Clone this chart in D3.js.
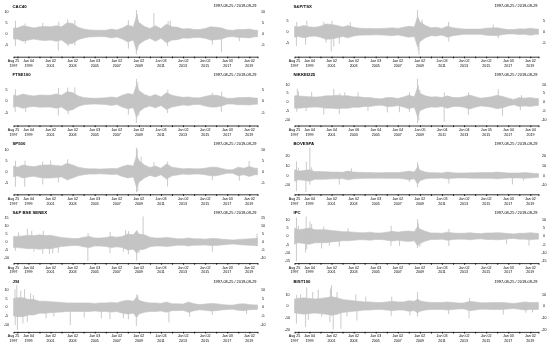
<!DOCTYPE html>
<html><head><meta charset="utf-8">
<script src="https://cdn.jsdelivr.net/npm/d3@7"></script>
<style>body{margin:0;background:#fff}svg{display:block;will-change:transform;transform:translateZ(0)}</style>
</head><body><svg id="c" width="550" height="348"></svg>
<script>
// ---------------- data ----------------
const names = ["CAC40","S&P/TSX","FTSE100","NIKKEI225","SP500","BOVESPA","S&P BSE SENEX","IPC","JSI","BIST100"];
const dateRange = "1997-08-25 / 2019-09-29";
const startDate = "1997-08-25", endDate = "2019-09-29";

// time grid for the typical (dense) daily-return band, in decimal years
const bandYears = [1997.65, 1998, 1998.5, 1999, 1999.5,
  2000, 2000.5, 2001, 2001.5, 2002, 2002.5, 2003, 2003.5,
  2004, 2004.5, 2005, 2005.5, 2006, 2006.5, 2007, 2007.5,
  2008, 2008.5, 2008.8, 2009, 2009.5, 2010, 2010.5,
  2011, 2011.5, 2012, 2012.5, 2013, 2013.5, 2014, 2014.5,
  2015, 2015.5, 2016, 2016.5, 2017, 2017.5, 2018, 2018.5,
  2019, 2019.5, 2019.74];

// half-width of the dense band (%) per grid date
const bandCAC40 = [2.5,2.5,3.5,3.0,2.5, 3.0,3.2,3.0,3.5, 3.0,4.8,4.5,2.8, 2.0,1.6,1.5,1.4, 1.5,2.0,1.6,2.5, 3.8,3.0,8.0, 5.0,3.2,2.2,3.5, 2.2,4.2,3.0,2.8, 2.0,2.2,1.8,1.8, 2.2,3.0,2.8,2.5, 1.6,1.4,1.8,1.8, 2.0,1.5,1.5];
const bandTSX   = [2.5,2.2,2.8,2.2,2.0, 2.5,3.5,3.3,2.8, 2.2,2.8,2.0,1.6, 1.5,1.5,1.4,1.5, 1.6,1.8,1.5,2.0, 2.5,2.2,7.0, 4.5,2.8,1.8,2.0, 1.5,2.5,1.8,1.5, 1.2,1.2,1.2,1.2, 1.6,1.7,1.8,1.3, 1.0,1.0,1.3,1.2, 1.6,1.2,1.2];
const bandFTSE  = [2.5,2.2,3.0,2.5,2.2, 2.6,2.5,2.5,3.0, 2.5,4.0,3.6,2.2, 1.5,1.3,1.2,1.3, 1.4,1.8,1.4,2.5, 3.2,2.8,7.0, 4.5,2.8,2.0,2.8, 1.8,3.5,2.5,2.0, 1.6,1.8,1.4,1.4, 2.0,2.5,2.5,2.0, 1.2,1.2,1.5,1.5, 1.6,1.3,1.3];
const bandNIKKEI= [3.5,3.5,3.2,3.0,2.8, 3.0,3.5,3.5,3.8, 3.5,3.5,3.0,3.0, 2.5,2.5,2.0,1.8, 2.5,2.5,2.0,2.8, 3.8,3.0,8.5, 5.0,3.5,2.8,3.0, 2.5,3.5,2.5,2.5, 3.0,4.0,3.0,2.2, 2.5,3.0,3.8,3.2, 2.2,1.5,2.5,2.2, 2.5,2.0,2.0];
const bandSP500 = [2.5,2.0,3.0,2.5,2.2, 2.8,3.0,3.0,2.8, 2.5,3.8,3.0,2.0, 1.5,1.2,1.2,1.1, 1.2,1.4,1.3,2.3, 3.0,2.5,7.5, 5.0,3.0,1.8,2.5, 1.5,3.5,2.0,1.6, 1.2,1.4,1.2,1.2, 1.5,2.0,2.0,1.4, 0.8,0.8,2.0,1.5, 2.3,1.5,1.5];
const bandBOVESPA=[6.0,4.5,5.0,6.0,4.0, 4.0,3.8,3.5,3.5, 3.2,4.5,3.5,3.2, 3.0,3.0,2.8,2.8, 3.0,3.0,3.0,3.5, 4.5,3.5,9.0, 5.5,3.5,2.8,2.8, 2.5,3.5,2.8,2.5, 2.5,2.8,2.8,3.0, 3.0,3.0,3.5,3.0, 2.5,2.5,2.5,3.0, 2.5,2.0,2.0];
const bandSENSEX= [3.5,3.5,3.8,4.2,4.0, 4.5,4.0,4.2,3.5, 2.8,2.5,2.2,2.2, 3.0,3.5,2.5,2.5, 2.8,3.5,3.0,3.5, 5.0,4.5,7.0, 5.0,4.5,3.0,2.5, 2.5,2.8,2.5,2.0, 2.0,2.5,2.0,2.0, 1.8,2.2,2.2,1.8, 1.5,1.2,1.6,1.8, 2.0,2.2,2.5];
const bandIPC   = [5.0,4.0,4.5,5.0,4.0, 4.0,4.0,3.5,3.2, 2.8,2.8,2.5,2.2, 2.2,2.5,2.0,2.0, 2.5,3.0,2.5,3.0, 3.2,2.8,6.0, 4.5,3.0,2.0,2.0, 1.8,2.5,2.0,1.8, 1.8,2.2,1.8,1.6, 2.0,2.0,2.2,2.0, 1.6,1.4,1.8,1.8, 2.2,1.8,1.8];
const bandJSI   = [5.0,5.5,5.5,4.5,4.5, 3.5,3.5,3.2,3.0, 2.8,2.5,2.5,2.5, 2.5,2.5,2.2,2.5, 2.5,2.8,2.5,3.5, 4.0,3.5,6.0, 4.0,3.0,2.5,2.5, 2.2,3.0,2.0,2.0, 1.8,3.0,2.0,1.5, 1.8,2.2,2.0,1.6, 1.3,1.2,1.8,2.0, 1.5,1.3,1.3];
const bandBIST  = [6.0,6.5,7.0,6.5,6.0, 6.5,7.0,8.0,7.0, 5.5,5.0,4.5,4.0, 3.5,3.5,3.0,3.0, 3.5,4.0,3.5,3.5, 4.5,4.0,6.0, 4.5,3.5,3.0,3.0, 3.0,3.5,3.0,2.5, 2.5,4.0,3.5,2.8, 2.8,3.0,3.0,3.0, 2.5,2.2,2.8,3.5, 3.0,3.0,3.0];

// isolated large daily returns [decimal year, %]
const spikesCAC40 = [[1997.82,5.8],[1997.82,-5.7],[1998.7,4.5],[1998.72,-4.6],[2000.3,4.8],[2001.7,-7.7],[2001.75,5.3],[2002.55,6.3],[2002.6,-5.8],[2003.2,6.0],[2003.2,-5.5],[2008.05,6.0],[2008.05,-6.9],[2008.78,10.6],[2008.77,-9.5],[2008.85,8.8],[2008.8,-7.5],[2010.36,9.2],[2011.6,-5.6],[2011.65,5.5],[2011.85,5.8],[2015.65,-5.0],[2016.48,-8.4],[2018.1,-3.5]];
const spikesTSX = [[1997.82,-6.6],[1997.85,4.5],[1998.65,-6.0],[1998.76,5.1],[2000.3,4.5],[2000.5,-5.0],[2000.97,-9.0],[2001.05,5.0],[2001.2,-6.8],[2001.7,-5.5],[2002.7,4.3],[2008.78,9.9],[2008.92,-10.4],[2008.85,-8.5],[2009.2,5.5],[2011.6,4.5],[2011.62,-4.5],[2015.65,3.2],[2016.1,-3.0]];
const spikesFTSE = [[1997.82,5.0],[1997.8,-4.5],[1998.75,-4.5],[2001.7,-6.0],[2001.72,5.5],[2002.55,5.7],[2002.6,-5.5],[2003.2,5.8],[2008.05,-5.6],[2008.78,9.4],[2008.77,-9.3],[2008.9,8.0],[2009.0,-6.0],[2011.6,-5.0],[2011.62,4.8],[2015.65,3.5],[2016.47,-4.5],[2016.5,4.0]];
const spikesNIKKEI = [[1997.9,7.6],[1997.85,-5.5],[1998.0,6.0],[1998.7,-5.2],[1999.2,5.8],[2000.3,-7.2],[2001.2,7.5],[2001.7,-6.9],[2001.75,5.0],[2002.2,5.5],[2003.4,5.6],[2004.3,-5.0],[2006.05,-5.9],[2007.15,-5.8],[2008.05,-5.6],[2008.06,5.5],[2008.78,13.2],[2008.79,-12.1],[2008.85,9.4],[2008.9,-10.5],[2009.0,7.0],[2011.2,-11.2],[2011.21,5.5],[2013.39,-7.3],[2013.4,5.5],[2016.1,7.2],[2016.48,-7.9],[2018.1,-4.7],[2018.2,3.9]];
const spikesSP500 = [[1997.82,-7.1],[1997.83,4.9],[1998.66,-7.0],[1998.69,5.0],[2000.3,-6.0],[2000.29,4.6],[2001.01,5.0],[2001.71,-5.0],[2002.55,5.6],[2002.56,-4.2],[2008.78,11.0],[2008.79,-9.5],[2008.85,10.2],[2008.9,-9.0],[2009.2,6.8],[2010.36,4.3],[2011.6,-6.9],[2011.61,4.6],[2015.65,-4.0],[2018.1,-4.2],[2018.98,4.8]];
const spikesBOVESPA = [[1997.82,-16.0],[1997.83,14.5],[1998.0,8.0],[1998.68,-17.2],[1998.72,14.0],[1999.03,-9.5],[1999.04,28.8],[1999.2,8.5],[2001.7,-9.5],[2002.8,7.5],[2008.05,-6.8],[2008.78,-12.1],[2008.79,13.7],[2008.85,11.0],[2011.63,-8.4],[2017.38,-9.2],[2018.4,-5.5]];
const spikesSENSEX = [[1997.82,-5.5],[1998.1,6.0],[1998.9,8.2],[1999.3,7.0],[1999.5,-6.0],[2000.3,-7.4],[2000.35,7.0],[2000.9,-7.5],[2001.2,-7.0],[2001.7,-6.8],[2004.38,-11.8],[2004.4,5.5],[2006.38,-7.0],[2006.4,6.3],[2007.6,-6.0],[2007.8,7.5],[2008.05,-7.7],[2008.06,6.8],[2008.8,-11.6],[2008.82,7.2],[2009.0,-7.0],[2009.38,16.0],[2015.65,-6.1],[2019.7,5.2]];
const spikesIPC = [[1997.82,-15.2],[1997.83,11.4],[1998.0,6.5],[1998.65,-10.0],[1998.7,12.2],[1998.75,-8.0],[1999.05,9.0],[1999.2,7.5],[2000.1,-7.5],[2000.3,6.0],[2000.8,-6.0],[2001.7,-6.5],[2002.5,5.0],[2006.38,-6.0],[2006.4,6.5],[2007.15,-6.0],[2008.78,-7.3],[2008.79,10.4],[2008.85,8.0],[2009.0,-6.5],[2011.62,-6.0],[2011.63,4.5],[2016.85,-5.0],[2018.88,-5.8]];
const spikesJSI = [[1997.78,10.5],[1997.8,-10.5],[1997.95,12.8],[1998.0,-13.1],[1998.3,9.5],[1998.5,-9.5],[1998.65,10.5],[1998.9,-8.5],[1999.2,8.0],[1999.45,7.0],[2000.6,-6.5],[2001.3,-5.5],[2002.79,-10.4],[2004.05,-6.0],[2005.6,-6.5],[2006.38,-7.0],[2007.6,-6.5],[2008.05,-7.0],[2008.77,-10.9],[2008.82,7.5],[2008.9,7.0],[2011.72,-8.9],[2013.6,-5.5],[2015.65,-4.5],[2018.75,-4.0]];
const spikesBIST = [[1997.82,-15.0],[1997.85,9.5],[1998.2,10.0],[1998.65,-18.0],[1998.75,16.0],[1998.9,-12.0],[1999.3,12.0],[1999.8,14.0],[2000.1,-9.0],[2000.85,-14.0],[2000.9,15.0],[2001.0,17.8],[2001.15,-20.3],[2001.5,12.0],[2001.85,-19.5],[2002.4,-9.0],[2003.2,10.0],[2003.3,-12.5],[2004.1,8.0],[2006.4,-8.5],[2006.45,8.0],[2008.1,-8.0],[2008.78,-9.0],[2008.79,12.0],[2011.6,-7.0],[2013.45,-10.5],[2013.5,7.0],[2016.55,-7.4],[2018.6,-5.8],[2019.2,-5.5]];

// y tick values per panel
const ticksCAC40=[-5,0,5,10], ticksTSX=[-5,0,5], ticksFTSE=[-5,0,5], ticksNIKKEI=[-10,-5,0,5,10],
      ticksSP500=[-5,0,5,10], ticksBOVESPA=[-10,0,10,20], ticksSENSEX=[-10,-5,0,5,10,15],
      ticksIPC=[-15,-10,-5,0,5,10], ticksJSI=[-10,-5,0,5,10], ticksBIST=[-20,-10,0,10];

// labelled x ticks (first observation, then every two years)
const xLabelDates = ["1997-08-25","1999-01-04","2001-01-02","2003-01-02","2005-01-03","2007-01-02","2009-01-02","2011-01-03","2013-01-02","2015-01-02","2017-01-03","2019-01-02"];
const xLabelDatesJP = ["1997-08-25","1999-01-04","2001-01-04","2003-01-06","2005-01-04","2007-01-04","2009-01-05","2011-01-04","2013-01-04","2015-01-05","2017-01-04","2019-01-04"];

const bands=[bandCAC40,bandTSX,bandFTSE,bandNIKKEI,bandSP500,bandBOVESPA,bandSENSEX,bandIPC,bandJSI,bandBIST];
const spikes=[spikesCAC40,spikesTSX,spikesFTSE,spikesNIKKEI,spikesSP500,spikesBOVESPA,spikesSENSEX,spikesIPC,spikesJSI,spikesBIST];
const yticks=[ticksCAC40,ticksTSX,ticksFTSE,ticksNIKKEI,ticksSP500,ticksBOVESPA,ticksSENSEX,ticksIPC,ticksJSI,ticksBIST];
const xlabs=names.map(n=>n==="NIKKEI225"?xLabelDatesJP:xLabelDates);

// ---------------- drawing ----------------
const parse=d3.timeParse("%Y-%m-%d");
const d0=parse(startDate), d1=parse(endDate);
function yd(t){const Y=Math.floor(t);const a=new Date(Y,0,1),b=new Date(Y+1,0,1);return new Date(+a+(t-Y)*(b-a));}
const FONT="'Liberation Sans', Arial, Helvetica, sans-serif";
const GREY="#c4c4c4";
const svg=d3.select("#c");
svg.append("rect").attr("width",550).attr("height",348).attr("fill","#fff");

const colX=[0,281], rowH=68.8;
const plotL=13.5, plotR=257.5, plotT=10, plotB=54.5, axisY=56.7;

const yearTicks=[d0].concat(d3.timeYear.range(new Date(1998,0,1),new Date(2020,0,1))).concat([d1]);

names.forEach((name,i)=>{
  const g=svg.append("g").attr("transform",`translate(${colX[i%2]},${Math.floor(i/2)*rowH})`);
  const x=d3.scaleTime().domain([d0,d1]).range([plotL,plotR]).clamp(true);
  const amp=bands[i], sp=spikes[i];
  const ext=d3.extent([...sp.map(d=>d[1]),...amp,...amp.map(a=>-a)]);
  const y=d3.scaleLinear().domain(ext).range([plotB,plotT]);
  const pts=bandYears.map((t,j)=>({t:yd(t),a:amp[j]}));
  g.append("path").datum(pts)
    .attr("d",d3.area().x(d=>x(d.t)).y0(d=>y(-d.a)).y1(d=>y(d.a)))
    .attr("fill",GREY).attr("stroke",GREY).attr("stroke-width",0.6);
  g.selectAll("line.sp").data(sp).join("line").attr("class","sp")
    .attr("x1",d=>x(yd(d[0]))).attr("x2",d=>x(yd(d[0])))
    .attr("y1",y(0)).attr("y2",d=>y(d[1]))
    .attr("stroke",GREY).attr("stroke-width",0.9);

  // x axis
  const ax=g.append("g").attr("transform",`translate(0,${axisY})`)
    .call(d3.axisBottom(x).tickValues(yearTicks).tickSizeInner(1.6).tickSizeOuter(0).tickFormat(""));
  ax.select(".domain").attr("stroke","#000").attr("stroke-width",0.8);
  ax.selectAll(".tick line").attr("stroke","#000").attr("stroke-width",0.9);
  const fmtA=d3.timeFormat("%b %d"), fmtB=d3.timeFormat("%Y");
  const labs=xlabs[i].map(parse);
  const lt=g.selectAll("text.xl").data(labs).join("text").attr("class","xl")
    .attr("x",d=>x(d)).attr("text-anchor","middle")
    .attr("font-family",FONT).attr("font-size",3.6).attr("fill","#000");
  lt.append("tspan").attr("x",d=>x(d)).attr("y",axisY+5.6).text(d=>fmtA(d));
  lt.append("tspan").attr("x",d=>x(d)).attr("y",axisY+10.4).text(d=>fmtB(d));

  // y labels both sides
  const tv=yticks[i].filter(v=>v>=ext[0]&&v<=ext[1]);
  [6.5,263].forEach(px=>{
    g.selectAll(null).data(tv).join("text")
      .attr("x",px).attr("y",d=>y(d)).attr("dy","0.35em").attr("text-anchor","middle")
      .attr("font-family",FONT).attr("font-size",3.6).attr("fill","#000").text(d=>d);
  });

  // titles
  g.append("text").attr("x",plotL-1).attr("y",6).attr("dy","0.35em")
    .attr("font-family",FONT).attr("font-weight","bold").attr("font-size",4.3).attr("fill","#000").text(name);
  g.append("text").attr("x",plotR-1).attr("y",6).attr("dy","0.35em").attr("text-anchor","end")
    .attr("font-family",FONT).attr("font-size",3.9).attr("fill","#000").text(dateRange);
});
</script></body></html>
